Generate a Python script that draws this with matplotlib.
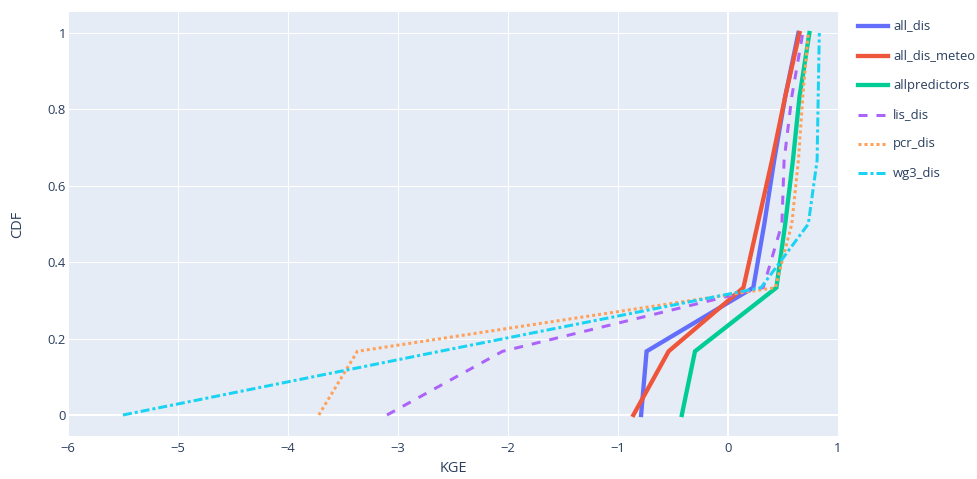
import matplotlib
matplotlib.use("Agg")
import matplotlib.pyplot as plt
from matplotlib.lines import Line2D

plt.rcParams['font.family'] = ['Open Sans', 'DejaVu Sans']
plt.rcParams['lines.scale_dashes'] = False

cdf = [0, 1/6, 2/6, 3/6, 4/6, 5/6, 1]

all_dis = [-0.79, -0.74, 0.23, 0.33, 0.42, 0.52, 0.64]
all_dis_meteo = [-0.86, -0.54, 0.14, 0.27, 0.40, 0.52, 0.65]
allpredictors = [-0.42, -0.30, 0.44, 0.52, 0.59, 0.65, 0.74]
lis_dis = [-3.10, -2.05, 0.32, 0.49, 0.51, 0.58, 0.68]
pcr_dis = [-3.72, -3.37, 0.43, 0.58, 0.64, 0.68, 0.73]
wg3_dis = [-5.50, -2.62, 0.30, 0.73, 0.81, 0.82, 0.83]

names = ['all_dis', 'all_dis_meteo', 'allpredictors', 'lis_dis', 'pcr_dis', 'wg3_dis']
series = [all_dis, all_dis_meteo, allpredictors, lis_dis, pcr_dis, wg3_dis]
colors = ['#636EFA', '#EF553B', '#00CC96', '#AB63FA', '#FFA15A', '#19D3F3']

px = 0.72  # points per pixel at dpi 100
styles = [
    dict(lw=4.3 * px, ls='-'),
    dict(lw=4.3 * px, ls='-'),
    dict(lw=4.3 * px, ls='-'),
    dict(lw=3 * px, ls=(0, (9 * px, 9 * px))),
    dict(lw=3 * px, ls=(0, (3 * px, 3 * px))),
    dict(lw=3 * px, ls=(0, (9 * px, 3 * px, 3 * px, 3 * px))),
]

W, H = 977, 479
fig = plt.figure(figsize=(W / 100, H / 100), dpi=100)
left, right, top, bottom = 68, 838, 12, 436
ax = fig.add_axes([left / W, (H - bottom) / H, (right - left) / W, (bottom - top) / H])
ax.set_facecolor('#E5ECF6')
for s in ax.spines.values():
    s.set_visible(False)

ax.set_xlim(-6, 1)
ax.set_ylim(-0.055, 1.055)
ax.set_xticks(range(-6, 2))
ax.set_yticks([0, 0.2, 0.4, 0.6, 0.8, 1])
ax.set_yticklabels(['0', '0.2', '0.4', '0.6', '0.8', '1'])
ax.grid(True, color='white', lw=1 * px)
ax.set_axisbelow(True)
ax.axhline(0, color='white', lw=2 * px, zorder=1)
ax.axvline(0, color='white', lw=2 * px, zorder=1)

tc = '#2a3f5f'
fs = 9.4
ax.tick_params(length=0, colors=tc, labelsize=fs)
ax.tick_params(axis='x', pad=4)
ax.tick_params(axis='y', pad=1.5)

for name, vals, c, st in zip(names, series, colors, styles):
    ax.plot(vals, cdf, color=c, label=name, zorder=3, solid_joinstyle='miter', **st)

ax.set_xlabel('KGE', color=tc, fontsize=10.5, labelpad=5)
ax.set_ylabel('CDF', color=tc, fontsize=10.5, labelpad=16)

# legend (plotly-style, to the right)
ys = [26, 55.5, 85, 114.5, 144, 173]
for (name, c, st, y) in zip(names, colors, styles, ys):
    fy = (H - y) / H
    fig.add_artist(Line2D([858 / W, 888 / W], [fy, fy], transform=fig.transFigure,
                          color=c, **st))
    fig.text(893 / W, fy, name, color=tc, fontsize=fs, va='center', ha='left')

fig.savefig('out.png', dpi=100, facecolor='white')
